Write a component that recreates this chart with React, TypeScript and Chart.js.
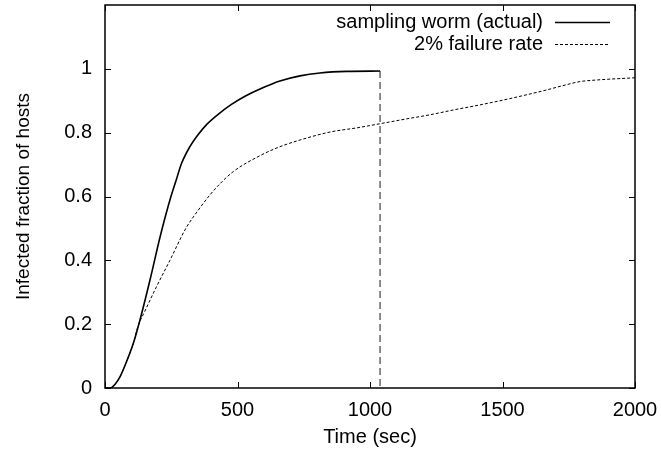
import React, { useEffect, useRef } from "react";
import { Chart, registerables } from "chart.js";

Chart.register(...registerables);

const wormTime = [0, 19, 38, 57, 80, 107, 132, 170, 208, 245, 270, 289, 321, 346, 384, 434, 480, 530, 585, 660, 736, 811, 912, 1038];
const wormFrac = [0, 0, 0.012, 0.036, 0.08, 0.14, 0.213, 0.339, 0.474, 0.589, 0.655, 0.704, 0.757, 0.788, 0.826, 0.862, 0.89, 0.915, 0.937, 0.962, 0.978, 0.987, 0.992, 0.993];

const failTime = [0, 19, 38, 57, 80, 107, 125, 150, 190, 245, 305, 350, 396, 434, 484, 585, 660, 736, 849, 950, 1038, 1130, 1226, 1320, 1415, 1540, 1667, 1740, 1792, 1855, 2000];
const failFrac = [0, 0, 0.012, 0.036, 0.08, 0.14, 0.195, 0.24, 0.31, 0.4, 0.5, 0.555, 0.605, 0.64, 0.678, 0.728, 0.756, 0.777, 0.802, 0.815, 0.828, 0.842, 0.856, 0.872, 0.887, 0.909, 0.934, 0.95, 0.96, 0.965, 0.972];

const endTime = [1038, 1038];
const endFrac = [0.993, 0];

const xTicks = [0, 500, 1000, 1500, 2000];
const yTicks = [0, 0.2, 0.4, 0.6, 0.8, 1];

const legendLabels = ["sampling worm (actual)", "2% failure rate"];
const xTitle = "Time (sec)";
const yTitle = "Infected fraction of hosts";

const FONT = "'Liberation Sans', Arial, Helvetica, sans-serif";

const zip = (xs: number[], ys: number[]) => xs.map((x, i) => ({ x, y: ys[i] }));

const insideTicks = {
  id: "insideTicks",
  afterDraw(chart: any) {
    const { ctx, chartArea, scales } = chart;
    const len = 6;
    ctx.save();
    ctx.strokeStyle = "#000";
    ctx.lineWidth = 1;
    ctx.beginPath();
    for (const v of xTicks) {
      const px = Math.round(scales.x.getPixelForValue(v)) + 0.5;
      ctx.moveTo(px, chartArea.bottom);
      ctx.lineTo(px, chartArea.bottom - len);
      ctx.moveTo(px, chartArea.top);
      ctx.lineTo(px, chartArea.top + len);
    }
    for (const v of yTicks) {
      const py = Math.round(scales.y.getPixelForValue(v)) + 0.5;
      ctx.moveTo(chartArea.left, py);
      ctx.lineTo(chartArea.left + len, py);
      ctx.moveTo(chartArea.right, py);
      ctx.lineTo(chartArea.right - len, py);
    }
    ctx.stroke();
    ctx.lineWidth = 1.5;
    ctx.strokeRect(chartArea.left, chartArea.top, chartArea.right - chartArea.left, chartArea.bottom - chartArea.top);
    ctx.restore();
  },
};

const insideLegend = {
  id: "insideLegend",
  afterDraw(chart: any) {
    const { ctx, chartArea } = chart;
    ctx.save();
    ctx.font = `20px ${FONT}`;
    ctx.fillStyle = "#000";
    ctx.textAlign = "right";
    ctx.textBaseline = "middle";
    const textRight = chartArea.right - 92;
    const lineL = chartArea.right - 80;
    const lineR = chartArea.right - 25;
    legendLabels.forEach((label, i) => {
      const ds = chart.data.datasets[i];
      const y = chartArea.top + 17 + i * 22;
      ctx.fillText(label, textRight, y);
      ctx.beginPath();
      ctx.strokeStyle = ds.borderColor;
      ctx.lineWidth = ds.borderWidth;
      ctx.setLineDash(ds.borderDash || []);
      ctx.moveTo(lineL, Math.round(y) + 0.5);
      ctx.lineTo(lineR, Math.round(y) + 0.5);
      ctx.stroke();
    });
    ctx.restore();
  },
};

export default function App() {
  const ref = useRef<HTMLCanvasElement | null>(null);

  useEffect(() => {
    document.body.style.margin = "0";
    if (!ref.current) return;
    const chart = new Chart(ref.current, {
      type: "scatter",
      data: {
        datasets: [
          {
            label: legendLabels[0],
            data: zip(wormTime, wormFrac),
            showLine: true,
            borderColor: "#000",
            borderWidth: 1.6,
            pointRadius: 0,
            cubicInterpolationMode: "monotone",
          },
          {
            label: legendLabels[1],
            data: zip(failTime, failFrac),
            showLine: true,
            borderColor: "#000",
            borderWidth: 1,
            borderDash: [3, 2],
            pointRadius: 0,
            cubicInterpolationMode: "monotone",
          },
          {
            label: "end",
            data: zip(endTime, endFrac),
            showLine: true,
            borderColor: "#666",
            borderWidth: 1.5,
            borderDash: [7, 4],
            pointRadius: 0,
          },
        ],
      },
      options: {
        responsive: false,
        animation: false,
        layout: { padding: { top: 5, right: 26, bottom: 0, left: 0 } },
        plugins: { legend: { display: false }, tooltip: { enabled: false } },
        scales: {
          x: {
            type: "linear",
            min: 0,
            max: 2000,
            grid: { display: false, drawTicks: false },
            border: { display: false },
            afterBuildTicks: (s: any) => {
              s.ticks = xTicks.map((v) => ({ value: v }));
            },
            afterFit: (s: any) => {
              s.height = 66;
              s.paddingLeft = 0;
              s.paddingRight = 0;
            },
            ticks: {
              padding: 10,
              maxRotation: 0,
              color: "#000",
              font: { family: FONT, size: 20 },
              callback: (v: any) => String(v),
            },
            title: {
              display: true,
              text: xTitle,
              color: "#000",
              padding: { top: 0, bottom: 5 },
              font: { family: FONT, size: 20 },
            },
          },
          y: {
            type: "linear",
            min: 0,
            max: 1.2,
            grid: { display: false, drawTicks: false },
            border: { display: false },
            afterBuildTicks: (s: any) => {
              s.ticks = yTicks.map((v) => ({ value: v }));
            },
            afterFit: (s: any) => {
              s.width = 105;
              s.paddingTop = 0;
              s.paddingBottom = 0;
            },
            ticks: {
              padding: 13,
              color: "#000",
              font: { family: FONT, size: 20 },
              callback: (v: any) => String(Math.round(Number(v) * 10) / 10),
            },
            title: {
              display: true,
              text: yTitle,
              color: "#000",
              padding: { top: 12, bottom: 0 },
              font: { family: FONT, size: 19 },
            },
          },
        },
      },
      plugins: [insideTicks, insideLegend],
    });
    return () => chart.destroy();
  }, []);

  return (
    <div style={{ width: 661, height: 454, background: "#fff" }}>
      <canvas ref={ref} width={661} height={454} style={{ display: "block" }} />
    </div>
  );
}
